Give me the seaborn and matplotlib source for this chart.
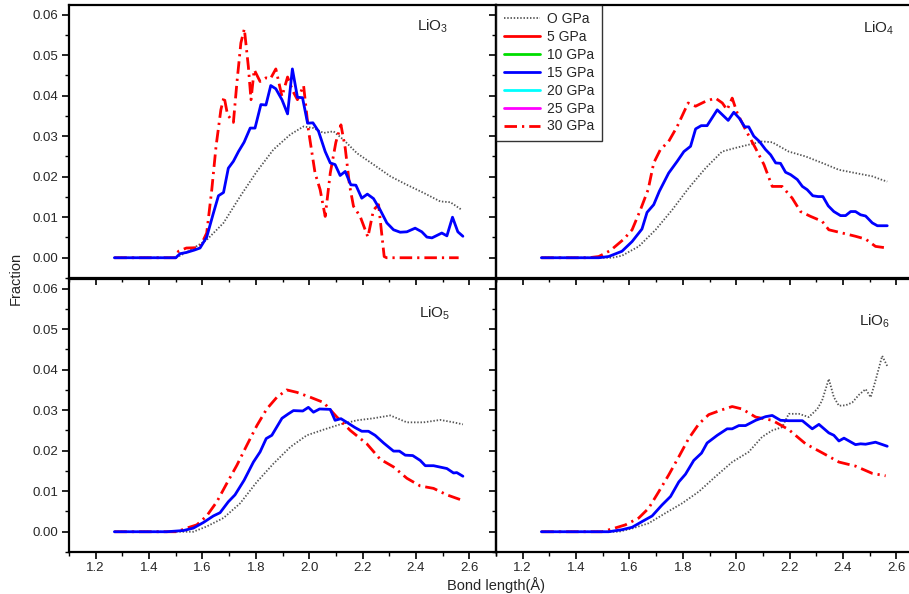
import numpy as np
import pandas as pd
import matplotlib
matplotlib.use("Agg")
import matplotlib.pyplot as plt
import seaborn as sns
from matplotlib.lines import Line2D
from matplotlib.ticker import MultipleLocator

sns.set_theme(style="ticks")
plt.rcParams["font.family"] = ["Liberation Sans", "DejaVu Sans"]
plt.rcParams["mathtext.fontset"] = "custom"
plt.rcParams["mathtext.rm"] = "Liberation Sans"


#----------------------------------------------------------------------
# legend entries (only 0, 15 and 30 GPa curves are visible in the figure)
pressures = ["O GPa", "5 GPa", "10 GPa", "15 GPa", "20 GPa", "25 GPa", "30 GPa"]
press_colors = ["#444444", "#ff0000", "#00dd00", "#0000ff", "#00ffff", "#ff00ff", "#ff0000"]

panel_names = ["LiO$_3$", "LiO$_4$", "LiO$_5$", "LiO$_6$"]

# LiO3
x3_0 = [1.27, 1.50, 1.54, 1.616, 1.679, 1.741, 1.804, 1.866, 1.929, 1.979, 2.016, 2.054, 2.091,
        2.129, 2.179, 2.241, 2.304, 2.366, 2.429, 2.491, 2.529, 2.572]
y3_0 = [0, 0, 0.0013, 0.0044, 0.0086, 0.0151, 0.0213, 0.0267, 0.0304, 0.0324, 0.032, 0.0308, 0.0312,
        0.0291, 0.0258, 0.023, 0.0201, 0.018, 0.016, 0.0139, 0.0137, 0.0118]
x3_15 = [1.27, 1.50, 1.516, 1.54, 1.57, 1.591, 1.616, 1.641, 1.66, 1.679, 1.697, 1.716, 1.735, 1.756,
         1.779, 1.797, 1.819, 1.838, 1.856, 1.875, 1.898, 1.919, 1.937, 1.956, 1.975, 1.994, 2.014,
         2.035, 2.06, 2.079, 2.097, 2.116, 2.135, 2.156, 2.175, 2.197, 2.218, 2.241, 2.266, 2.291,
         2.316, 2.341, 2.366, 2.397, 2.422, 2.441, 2.46, 2.497, 2.516, 2.537, 2.557, 2.576]
y3_15 = [0, 0, 0.001, 0.0013, 0.0019, 0.0024, 0.0051, 0.011, 0.0153, 0.0161, 0.0221, 0.0238, 0.0262,
         0.0285, 0.032, 0.032, 0.0378, 0.0377, 0.0425, 0.0417, 0.039, 0.0355, 0.0466, 0.0396, 0.0395,
         0.0332, 0.0333, 0.0312, 0.0262, 0.0234, 0.023, 0.0203, 0.0213, 0.018, 0.0179, 0.0147, 0.0157,
         0.0146, 0.0118, 0.0086, 0.0069, 0.0063, 0.0064, 0.0073, 0.0064, 0.0051, 0.0049, 0.0061,
         0.0054, 0.01, 0.0064, 0.0053]
x3_30 = [1.27, 1.50, 1.51, 1.54, 1.59, 1.616, 1.635, 1.651, 1.669, 1.681, 1.694, 1.716, 1.729, 1.744,
         1.757, 1.772, 1.782, 1.794, 1.816, 1.838, 1.855, 1.875, 1.898, 1.919, 1.939, 1.956, 1.979,
         1.997, 2.022, 2.041, 2.06, 2.079, 2.10, 2.119, 2.135, 2.151, 2.166, 2.191, 2.22, 2.241, 2.26,
         2.281, 2.29, 2.56]
y3_30 = [0, 0, 0.0016, 0.0024, 0.0025, 0.0061, 0.0168, 0.0275, 0.0365, 0.0398, 0.0353, 0.0334,
         0.0431, 0.053, 0.0565, 0.0472, 0.039, 0.0464, 0.0435, 0.0444, 0.0442, 0.0466, 0.0398, 0.0446,
         0.0411, 0.039, 0.0425, 0.0316, 0.0209, 0.0168, 0.0102, 0.0209, 0.0285, 0.0328, 0.0271, 0.018,
         0.0127, 0.0102, 0.0051, 0.0118, 0.0131, 0.0003, 0, 0]

# LiO4
x4_0 = [1.27, 1.535, 1.572, 1.635, 1.698, 1.76, 1.822, 1.885, 1.947, 1.997, 2.047, 2.097, 2.135,
        2.197, 2.26, 2.322, 2.385, 2.447, 2.51, 2.547, 2.566]
y4_0 = [0, 0, 0.0005, 0.0028, 0.0069, 0.0118, 0.0172, 0.0221, 0.0262, 0.0271, 0.0279, 0.0287,
        0.0285, 0.0262, 0.025, 0.0234, 0.0217, 0.0209, 0.0201, 0.0192, 0.0188]
x4_15 = [1.27, 1.485, 1.522, 1.572, 1.61, 1.647, 1.666, 1.691, 1.712, 1.747, 1.779, 1.804, 1.829,
         1.848, 1.869, 1.891, 1.929, 1.948, 1.97, 1.991, 2.012, 2.032, 2.047, 2.066, 2.087, 2.11,
         2.129, 2.148, 2.166, 2.185, 2.204, 2.229, 2.248, 2.266, 2.287, 2.307, 2.325, 2.345, 2.366,
         2.391, 2.41, 2.429, 2.447, 2.466, 2.485, 2.51, 2.529, 2.566]
y4_15 = [0, 0, 0.0003, 0.0016, 0.004, 0.0071, 0.0112, 0.0131, 0.0164, 0.0209, 0.0238, 0.0262,
         0.0275, 0.0318, 0.0326, 0.0326, 0.0365, 0.0353, 0.0339, 0.0359, 0.0344, 0.0323, 0.0323,
         0.03, 0.0287, 0.0267, 0.0254, 0.0234, 0.0233, 0.0211, 0.0205, 0.0193, 0.0176, 0.0168,
         0.0153, 0.0151, 0.0151, 0.0128, 0.0114, 0.0104, 0.0104, 0.0114, 0.0114, 0.0106, 0.0103,
         0.0086, 0.0079, 0.0079]
x4_30 = [1.27, 1.447, 1.485, 1.529, 1.579, 1.61, 1.641, 1.67, 1.691, 1.716, 1.747, 1.779, 1.82,
         1.848, 1.885, 1.922, 1.948, 1.966, 1.985, 2.004, 2.035, 2.072, 2.104, 2.135, 2.172, 2.21,
         2.241, 2.279, 2.322, 2.347, 2.385, 2.447, 2.485, 2.522, 2.566]
y4_30 = [0, 0, 0.0003, 0.0018, 0.0046, 0.0069, 0.0118, 0.0168, 0.0234, 0.0267, 0.0287, 0.0324,
         0.0382, 0.0374, 0.0386, 0.0394, 0.0382, 0.0365, 0.0394, 0.0357, 0.0316, 0.0271, 0.023,
         0.0176, 0.0176, 0.0147, 0.0114, 0.0102, 0.009, 0.0069, 0.0063, 0.0053, 0.0046, 0.0028, 0.0024]

# LiO5
x5_0 = [1.27, 1.566, 1.616, 1.679, 1.741, 1.804, 1.866, 1.929, 1.991, 2.054, 2.116, 2.179, 2.241,
        2.304, 2.366, 2.429, 2.491, 2.541, 2.576]
y5_0 = [0, 0, 0.0013, 0.0034, 0.007, 0.0123, 0.0168, 0.0209, 0.0238, 0.0252, 0.0265, 0.0275, 0.028,
        0.0287, 0.027, 0.027, 0.0276, 0.027, 0.0265]
x5_15 = [1.27, 1.466, 1.529, 1.566, 1.604, 1.641, 1.666, 1.697, 1.722, 1.756, 1.791, 1.816, 1.839,
         1.86, 1.898, 1.922, 1.941, 1.976, 1.997, 2.016, 2.039, 2.079, 2.097, 2.119, 2.141, 2.172,
         2.197, 2.222, 2.247, 2.279, 2.316, 2.338, 2.36, 2.388, 2.416, 2.435, 2.466, 2.516, 2.541,
         2.553, 2.576]
y5_15 = [0, 0, 0.0003, 0.0009, 0.0023, 0.0039, 0.0047, 0.0074, 0.0091, 0.0127, 0.0172, 0.0197,
         0.023, 0.0238, 0.028, 0.0291, 0.0299, 0.0298, 0.0307, 0.0295, 0.0303, 0.0302, 0.0275,
         0.0279, 0.027, 0.0257, 0.0248, 0.0248, 0.0238, 0.0219, 0.0199, 0.0199, 0.0189, 0.0188,
         0.0176, 0.0163, 0.0163, 0.0156, 0.0145, 0.0146, 0.0137]
x5_30 = [1.27, 1.504, 1.541, 1.579, 1.616, 1.654, 1.691, 1.729, 1.766, 1.804, 1.841, 1.879, 1.916,
         1.954, 2.004, 2.054, 2.104, 2.154, 2.216, 2.266, 2.316, 2.366, 2.416, 2.466, 2.516, 2.572]
y5_30 = [0, 0, 0.0009, 0.0017, 0.0039, 0.0074, 0.0119, 0.0164, 0.0213, 0.0262, 0.0303, 0.0332,
         0.035, 0.0344, 0.0332, 0.0319, 0.0283, 0.025, 0.0217, 0.0179, 0.016, 0.0132, 0.0113,
         0.0107, 0.0091, 0.0078]

# LiO6
x6_0 = [1.27, 1.56, 1.61, 1.672, 1.735, 1.797, 1.86, 1.922, 1.985, 2.047, 2.097, 2.135, 2.172,
        2.197, 2.235, 2.272, 2.304, 2.322, 2.347, 2.366, 2.385, 2.41, 2.435, 2.46, 2.485, 2.504,
        2.522, 2.547, 2.566]
y6_0 = [0, 0, 0.0008, 0.0021, 0.0046, 0.007, 0.0099, 0.0136, 0.0172, 0.0197, 0.0234, 0.025,
        0.0258, 0.0291, 0.0291, 0.0283, 0.0303, 0.0324, 0.0377, 0.0332, 0.0311, 0.0312, 0.0319,
        0.0338, 0.0352, 0.0332, 0.0373, 0.0434, 0.0409]
x6_15 = [1.27, 1.522, 1.572, 1.61, 1.647, 1.685, 1.722, 1.754, 1.785, 1.81, 1.841, 1.87, 1.891,
         1.929, 1.966, 1.985, 2.01, 2.035, 2.073, 2.11, 2.135, 2.166, 2.197, 2.248, 2.285, 2.31,
         2.347, 2.366, 2.385, 2.404, 2.447, 2.466, 2.485, 2.522, 2.566]
y6_15 = [0, 0, 0.0005, 0.0011, 0.0025, 0.0039, 0.0066, 0.0087, 0.0123, 0.0142, 0.0176, 0.0194,
         0.0219, 0.0238, 0.0254, 0.0254, 0.0262, 0.0262, 0.0275, 0.0284, 0.0287, 0.0275, 0.0274,
         0.0274, 0.0254, 0.0265, 0.0244, 0.0238, 0.0224, 0.0231, 0.0215, 0.0217, 0.0216, 0.0221,
         0.0211]
x6_30 = [1.27, 1.497, 1.535, 1.585, 1.635, 1.672, 1.71, 1.747, 1.785, 1.822, 1.86, 1.897, 1.947,
         1.985, 2.022, 2.073, 2.135, 2.197, 2.26, 2.322, 2.385, 2.447, 2.51, 2.56]
y6_30 = [0, 0, 0.0007, 0.0017, 0.0034, 0.0058, 0.0099, 0.014, 0.0185, 0.023, 0.0266, 0.0289,
         0.0301, 0.0309, 0.0303, 0.0283, 0.0275, 0.0252, 0.0217, 0.0195, 0.0172, 0.0162, 0.0144,
         0.0138]


#----------------------------------------------------------------------
rows = []
for panel, series in enumerate([
    [(x3_0, y3_0), (x3_15, y3_15), (x3_30, y3_30)],
    [(x4_0, y4_0), (x4_15, y4_15), (x4_30, y4_30)],
    [(x5_0, y5_0), (x5_15, y5_15), (x5_30, y5_30)],
    [(x6_0, y6_0), (x6_15, y6_15), (x6_30, y6_30)],
]):
    for p, (xs, ys) in zip(["O GPa", "15 GPa", "30 GPa"], series):
        rows.append(pd.DataFrame({"panel": panel, "pressure": p, "x": xs, "y": ys}))
data = pd.concat(rows, ignore_index=True)

line_styles = {
    "O GPa": dict(color="#555555", lw=1.3, linestyle=(0, (0.8, 1.0))),
    "15 GPa": dict(color="#0000ff", lw=2.0, linestyle="-"),
    "30 GPa": dict(color="#ff0000", lw=2.0, linestyle=(0, (4.5, 1.8, 0.8, 1.8))),
}


#----------------------------------------------------------------------
fig = plt.figure(figsize=(9.09, 5.94), dpi=100)
W, H = 909, 594
lefts = [69, 496, 69, 496]
bottoms = [278, 278, 552, 552]
axes = []
for l, b in zip(lefts, bottoms):
    axes.append(fig.add_axes([l / W, 1 - b / H, 427 / W, 273.5 / H]))

label_pos = [(0.815, 0.92), (0.86, 0.915), (0.82, 0.875), (0.85, 0.845)]

for i, ax in enumerate(axes):
    sub = data[data["panel"] == i]
    for p in ["O GPa", "30 GPa", "15 GPa"]:
        s = sub[sub["pressure"] == p]
        sns.lineplot(x=s["x"].values, y=s["y"].values, ax=ax, estimator=None, sort=False,
                     **line_styles[p])
    ax.set_xlim(1.1, 2.7)
    ax.set_ylim(-0.005, 0.0625)
    ax.xaxis.set_major_locator(MultipleLocator(0.2))
    ax.xaxis.set_minor_locator(MultipleLocator(0.1))
    ax.yaxis.set_major_locator(MultipleLocator(0.01))
    ax.yaxis.set_minor_locator(MultipleLocator(0.005))
    ax.yaxis.set_major_formatter(matplotlib.ticker.FormatStrFormatter("%.2f"))
    ax.xaxis.set_major_formatter(matplotlib.ticker.FormatStrFormatter("%.1f"))
    ax.tick_params(which="major", direction="out", length=5, width=1.2, color="black",
                   labelsize=9.5, pad=2.5)
    ax.tick_params(which="minor", direction="out", length=3, width=1.0, color="black")
    ax.tick_params(labelleft=(i % 2 == 0), labelbottom=(i >= 2))
    for sp in ax.spines.values():
        sp.set_visible(True)
        sp.set_linewidth(1.6)
        sp.set_color("black")
    ax.set_xlabel("")
    ax.set_ylabel("")
    ax.patch.set_alpha(0)
    ax.text(label_pos[i][0], label_pos[i][1], panel_names[i], transform=ax.transAxes,
            fontsize=11, ha="left", va="center")

handles = []
for p, c in zip(pressures, press_colors):
    if p in line_styles:
        handles.append(Line2D([], [], **line_styles[p]))
    else:
        handles.append(Line2D([], [], color=c, lw=2.0))
leg = axes[1].legend(handles, pressures, loc="upper left", bbox_to_anchor=(0.0, 1.0),
                     borderaxespad=0, fontsize=10, frameon=True, fancybox=False,
                     handlelength=2.6, handletextpad=0.5, labelspacing=0.28,
                     borderpad=0.55)
leg.get_frame().set_edgecolor("black")
leg.get_frame().set_linewidth(1.0)

fig.text(16 / W, 1 - 278 / H, "Fraction", rotation=90, ha="center", va="center", fontsize=10.5)
fig.text(496 / W, 1 - 585 / H, "Bond length(Å)", ha="center", va="center", fontsize=10.5)

fig.savefig("out.png", dpi=100)
